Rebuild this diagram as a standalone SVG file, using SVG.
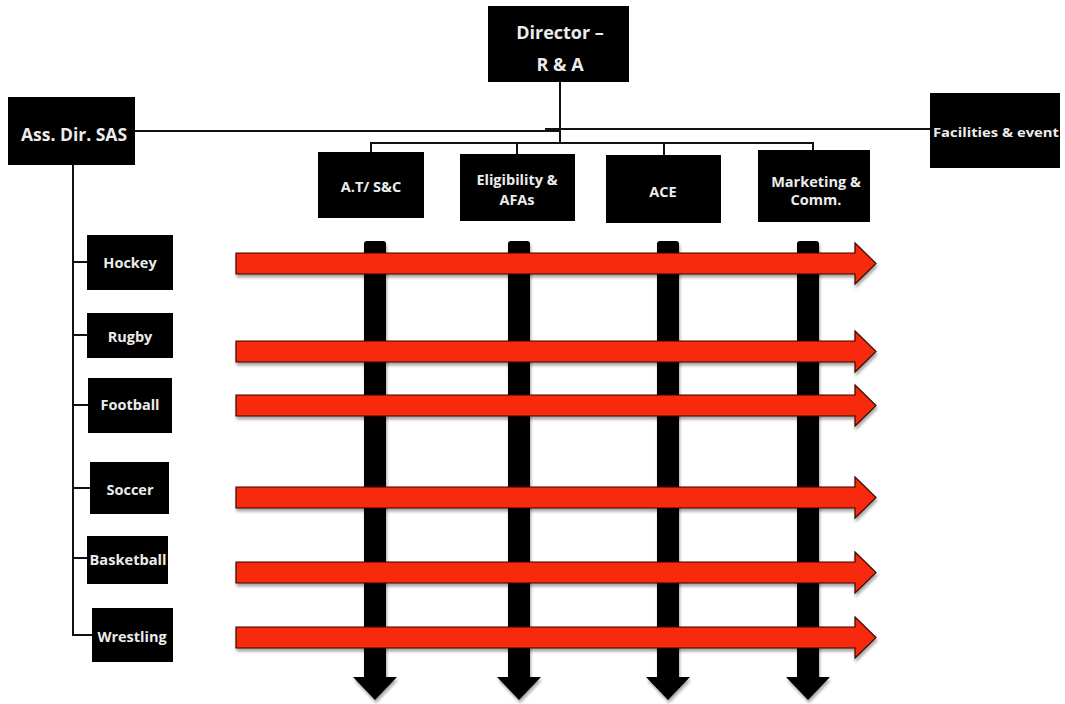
<svg xmlns="http://www.w3.org/2000/svg" width="1065" height="704" viewBox="0 0 1065 704">
<defs>
<style>
.box{fill:#000;}
.lbl{fill:#ececec;font-family:"Open Sans","Liberation Sans",sans-serif;font-weight:bold;text-anchor:middle;}
.big{font-size:18px;}
.ad{font-size:17.5px;}
.mid{font-size:14.5px;}
.fac{font-size:13px;}
.sm{font-size:14.5px;}
.ln{stroke:#111;stroke-width:2;fill:none;}
.red{fill:#f7290a;stroke:#3a0a00;stroke-width:1.2;}
.blk{fill:#000;}
</style>
<filter id="sh" x="-10%" y="-20%" width="130%" height="160%">
<feDropShadow dx="1" dy="3" stdDeviation="1.5" flood-color="#000" flood-opacity="0.35"/>
</filter>
</defs>
<rect width="1065" height="704" fill="#fff"/>

<g id="connectors">
<line class="ln" x1="560" y1="82" x2="560" y2="143"/>
<line class="ln" x1="135" y1="131" x2="560" y2="131"/>
<line class="ln" x1="545" y1="129" x2="930" y2="129" stroke="#333"/>
<line class="ln" x1="371" y1="143" x2="814" y2="143"/>
<line class="ln" x1="371" y1="142" x2="371" y2="152"/>
<line class="ln" x1="517" y1="142" x2="517" y2="154"/>
<line class="ln" x1="664" y1="142" x2="664" y2="155"/>
<line class="ln" x1="813" y1="142" x2="813" y2="150"/>
<line class="ln" x1="73" y1="165" x2="73" y2="636"/>
<line class="ln" x1="73" y1="262" x2="87" y2="262"/>
<line class="ln" x1="73" y1="335" x2="87" y2="335"/>
<line class="ln" x1="73" y1="405" x2="88" y2="405"/>
<line class="ln" x1="73" y1="488" x2="90" y2="488"/>
<line class="ln" x1="73" y1="558" x2="87" y2="558"/>
<line class="ln" x1="72" y1="635" x2="92" y2="635"/>
</g>

<g id="director"><rect class="box" x="488" y="6" width="141" height="76"/>
<text class="lbl big" x="560" y="39">Director –</text><text class="lbl big" x="560" y="71">R &amp; A</text></g>
<g id="assdir"><rect class="box" x="8" y="97" width="127" height="68"/>
<text class="lbl ad" x="74" y="141">Ass. Dir. SAS</text></g>
<g id="facilities"><rect class="box" x="930" y="93" width="130" height="75"/>
<text class="lbl fac" x="996" y="137" textLength="126" lengthAdjust="spacingAndGlyphs">Facilities &amp; event</text></g>

<g id="atsc"><rect class="box" x="318" y="152" width="106" height="66"/>
<text class="lbl sm" x="371" y="192">A.T/ S&amp;C</text></g>
<g id="eligibility"><rect class="box" x="460" y="154" width="115" height="67"/>
<text class="lbl sm" x="517" y="185">Eligibility &amp;</text><text class="lbl sm" x="517" y="205">AFAs</text></g>
<g id="ace"><rect class="box" x="606" y="155" width="115" height="68"/>
<text class="lbl sm" x="663" y="197">ACE</text></g>
<g id="marketing"><rect class="box" x="758" y="150" width="112" height="72"/>
<text class="lbl sm" x="816" y="187">Marketing &amp;</text><text class="lbl sm" x="816" y="205">Comm.</text></g>

<g id="hockey"><rect class="box" x="87" y="235" width="86" height="55"/><text class="lbl mid" x="130" y="268">Hockey</text></g>
<g id="rugby"><rect class="box" x="87" y="313" width="86" height="45"/><text class="lbl mid" x="130" y="342">Rugby</text></g>
<g id="football"><rect class="box" x="88" y="378" width="84" height="55"/><text class="lbl mid" x="130" y="410">Football</text></g>
<g id="soccer"><rect class="box" x="90" y="462" width="79" height="52"/><text class="lbl mid" x="130" y="495">Soccer</text></g>
<g id="basketball"><rect class="box" x="87" y="536" width="81" height="48"/><text class="lbl mid" x="128" y="565" textLength="77" lengthAdjust="spacingAndGlyphs">Basketball</text></g>
<g id="wrestling"><rect class="box" x="92" y="608" width="81" height="54"/><text class="lbl mid" x="132" y="642">Wrestling</text></g>

<g id="down-arrows" filter="url(#sh)">
<path class="blk" d="M364,244 Q364,241 367,241 L383,241 Q386,241 386,244 L386,677 L397,677 L375,700 L353,677 L364,677 Z"/>
<path class="blk" d="M508,244 Q508,241 511,241 L527,241 Q530,241 530,244 L530,677 L541,677 L519,700 L497,677 L508,677 Z"/>
<path class="blk" d="M657,244 Q657,241 660,241 L676,241 Q679,241 679,244 L679,677 L690,677 L668,700 L646,677 L657,677 Z"/>
<path class="blk" d="M797,244 Q797,241 800,241 L816,241 Q819,241 819,244 L819,677 L830,677 L808,700 L786,677 L797,677 Z"/>
</g>

<g id="right-arrows" filter="url(#sh)">
<path class="red" d="M236,253 L855,253 L855,243 L876,263.5 L855,284 L855,274 L236,274 Z"/>
<path class="red" d="M236,341 L855,341 L855,331 L876,351.5 L855,372 L855,362 L236,362 Z"/>
<path class="red" d="M236,395 L855,395 L855,385 L876,405.5 L855,426 L855,416 L236,416 Z"/>
<path class="red" d="M236,487 L855,487 L855,477 L876,497.5 L855,518 L855,508 L236,508 Z"/>
<path class="red" d="M236,562 L855,562 L855,552 L876,572.5 L855,593 L855,583 L236,583 Z"/>
<path class="red" d="M236,627 L855,627 L855,617 L876,637.5 L855,658 L855,648 L236,648 Z"/>
</g>
</svg>
